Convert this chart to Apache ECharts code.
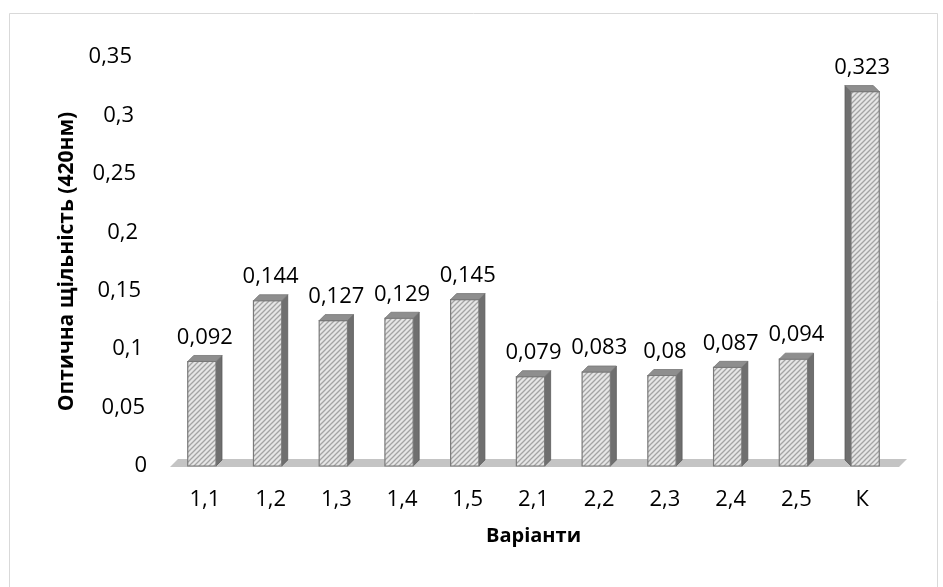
<!DOCTYPE html>
<html>
<head>
<meta charset="utf-8">
<script src="https://cdn.jsdelivr.net/npm/echarts@6/dist/echarts.min.js"></script>
<style>
html,body{margin:0;padding:0;background:#fff;}
#chart{width:943px;height:587px;}
</style>
</head>
<body>
<div id="chart"></div>
<script>
const categories = ['1,1','1,2','1,3','1,4','1,5','2,1','2,2','2,3','2,4','2,5','К'];
const values = [0.092, 0.144, 0.127, 0.129, 0.145, 0.079, 0.083, 0.08, 0.087, 0.094, 0.323];
const yTicks = [0, 0.05, 0.1, 0.15, 0.2, 0.25, 0.3, 0.35];
const yTitle = 'Оптична щільність (420нм)';
const xTitle = 'Варіанти';

const FONT = '"Open Sans", sans-serif';
const fmt = v => String(+(+v).toFixed(3)).replace('.', ',');

// hatch pattern tile
const tile = document.createElement('canvas');
tile.width = 5; tile.height = 5;
(function(){
  const c = tile.getContext('2d');
  c.fillStyle = '#e6e6e6';
  c.fillRect(0,0,5,5);
  c.strokeStyle = '#a4a4a4';
  c.lineWidth = 1.3;
  c.beginPath();
  c.moveTo(-1,6); c.lineTo(6,-1);
  c.moveTo(-3.5,3.5); c.lineTo(3.5,-3.5);
  c.moveTo(1.5,8.5); c.lineTo(8.5,1.5);
  c.stroke();
})();

const rich = {};
yTicks.forEach((t, i) => {
  rich['p' + i] = {
    fontFamily: FONT, fontSize: 22, color: '#000',
    padding: [0, Math.round(15 * t / 0.35), 0, 0]
  };
});

const barData = values.map((v, i) => [i, v]);
const last = values.length - 1;

function renderBar(params, api) {
  const idx = api.value(0), v = api.value(1);
  const base = api.coord([idx, 0]);
  const top = api.coord([idx, v]);
  const band = api.size([1, 0])[0];
  const w = band * 0.43;
  const s = idx === last ? -1 : 1;
  const d = 6;
  const cx = base[0] - 3 * s;
  const x0 = cx - w / 2, x1 = cx + w / 2;
  const yf = top[1] + 3;
  const yb = base[1];
  const side = s > 0
    ? [[x1, yf], [x1 + d, yf - d], [x1 + d, yb - d], [x1, yb]]
    : [[x0, yf], [x0 - d, yf - d], [x0 - d, yb - d], [x0, yb]];
  return {
    type: 'group',
    children: [
      { type: 'polygon', shape: { points: side }, style: { fill: '#6f6f6f', stroke: '#5a5a5a', lineWidth: 0.8 } },
      { type: 'rect', shape: { x: x0, y: yf, width: w, height: yb - yf },
        style: { fill: { image: tile, repeat: 'repeat' }, stroke: '#7a7a7a', lineWidth: 1.2 } },
      { type: 'polygon', shape: { points: [[x0, yf], [x1, yf], [x1 + s * d, yf - d], [x0 + s * d, yf - d]] },
        style: { fill: '#8e8e8e', stroke: '#777', lineWidth: 0.8 } },
      { type: 'text', x: cx + s * d / 2, y: yf - 24,
        style: { text: fmt(v), fill: '#000', font: '22px ' + FONT, align: 'center', verticalAlign: 'middle' } }
    ]
  };
}

function renderFloor(params, api) {
  const band = api.size([1, 0])[0];
  const a = api.coord([0, 0]);
  const b = api.coord([last, 0]);
  const xl = a[0] - band / 2, xr = b[0] + band / 2;
  const y = a[1];
  return {
    type: 'polygon',
    shape: { points: [[xl - 2, y + 1], [xr + 4, y + 1], [xr + 12, y - 7], [xl + 6, y - 7]] },
    style: { fill: '#c4c4c4' }
  };
}

const chart = echarts.init(document.getElementById('chart'), null, { renderer: 'canvas' });
chart.setOption({
  backgroundColor: '#fff',
  animation: false,
  graphic: [{
    type: 'rect', shape: { x: 9.5, y: 13.5, width: 928, height: 620 },
    style: { fill: 'none', stroke: '#d9d9d9', lineWidth: 1 }, silent: true, z: -10
  }],
  grid: { left: 172, right: 48, top: 57, bottom: 121 },
  xAxis: {
    type: 'category',
    data: categories,
    name: xTitle,
    nameLocation: 'middle',
    nameGap: 60,
    nameTextStyle: { fontFamily: FONT, fontSize: 20, fontWeight: 'bold', color: '#000' },
    axisLine: { show: false },
    axisTick: { show: false },
    axisLabel: { fontFamily: FONT, fontSize: 22, color: '#000', margin: 23 },
    splitLine: { show: false }
  },
  yAxis: {
    type: 'value',
    min: 0, max: 0.35, interval: 0.05,
    name: yTitle,
    nameLocation: 'middle',
    nameRotate: 90,
    nameGap: 94,
    nameTextStyle: { fontFamily: FONT, fontSize: 21, fontWeight: 'bold', color: '#000' },
    axisLine: { show: false },
    axisTick: { show: false },
    splitLine: { show: false },
    axisLabel: {
      margin: 25,
      align: 'right',
      formatter: (v) => {
        const i = yTicks.findIndex(t => Math.abs(t - v) < 1e-9);
        return '{p' + (i < 0 ? 0 : i) + '|' + fmt(v) + '}';
      },
      rich: rich
    }
  },
  series: [
    { type: 'custom', renderItem: renderFloor, data: [[0, 0]], z: 1, silent: true },
    { type: 'custom', renderItem: renderBar, data: barData, encode: { x: 0, y: 1 }, z: 2 }
  ]
});
</script>
</body>
</html>
